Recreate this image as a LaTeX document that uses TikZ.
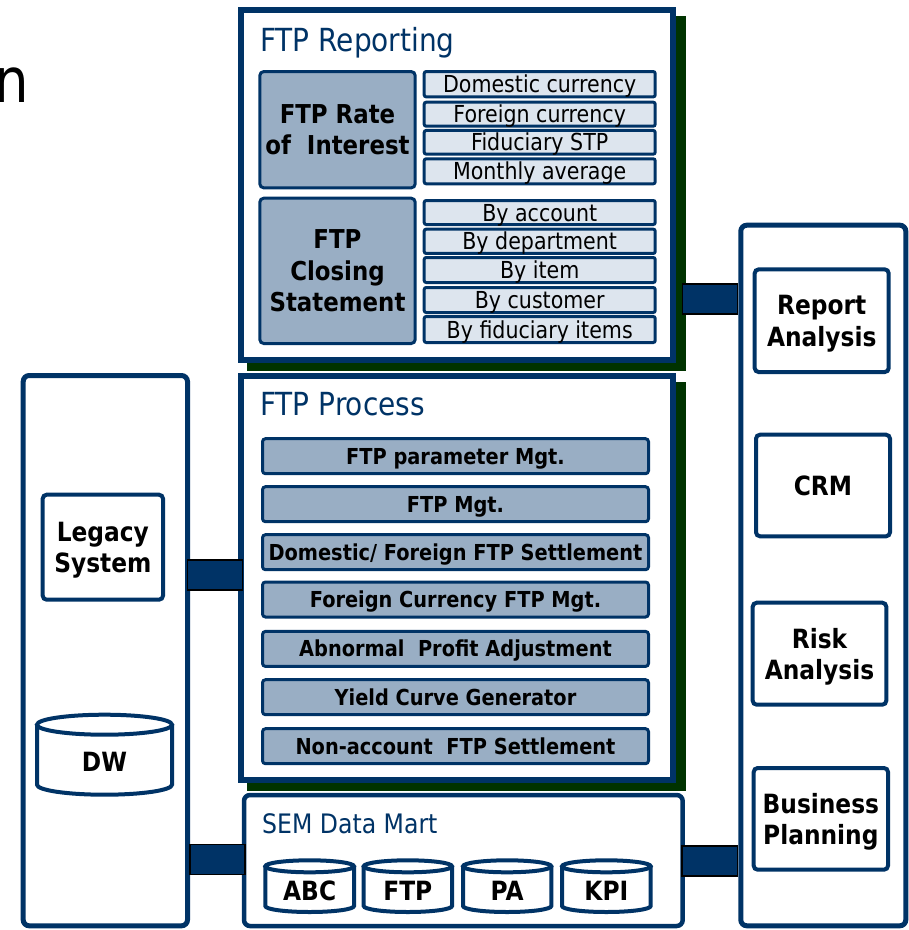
\documentclass[tikz,border=0pt]{standalone}
\usepackage{fontspec}
\setmainfont{DejaVu Sans}[FakeStretch=0.88]
\usetikzlibrary{calc}
\definecolor{navy}{HTML}{003366}
\definecolor{shadowgreen}{HTML}{003300}
\definecolor{grayblue}{HTML}{99AEC4}
\definecolor{lightblue}{HTML}{DDE5EE}
\newcommand\fsz[2]{\fontsize{#1}{#2}\selectfont}
% #1 L, #2 R, #3 ellipse centre y, #4 ry, #5 bottom side y, #6 cx, #7 rx
\newcommand\dbcyl[7]{%
  \filldraw[cylline] (#1,#3) -- (#1,#5) arc[start angle=180, end angle=360, x radius=#7pt, y radius=#4pt] -- (#2,#3);
  \filldraw[cylline] (#6,#3) ellipse [x radius=#7pt, y radius=#4pt];
}
\begin{document}
\begin{tikzpicture}[x=1pt,y=-1pt,
  bigframe/.style={draw=navy, line width=6pt, fill=white, inner sep=0pt, outer sep=0pt},
  sideframe/.style={draw=navy, line width=5pt, fill=white, rounded corners=6pt, inner sep=0pt, outer sep=0pt},
  appbox/.style={draw=navy, line width=4pt, fill=white, rounded corners=4pt, inner sep=0pt, outer sep=0pt, align=center, font=\fsz{26.5}{31.5}\bfseries},
  graybox/.style={draw=navy, line width=3pt, fill=grayblue, rounded corners=4pt, inner sep=0pt, outer sep=0pt, align=center, font=\fsz{26}{31.8}\bfseries},
  itembox/.style={draw=navy, line width=3pt, fill=lightblue, rounded corners=2pt, inner sep=0pt, outer sep=0pt, minimum width=231pt, font=\fsz{23.4}{28}, text height=17pt, text depth=0pt},
  procbar/.style={draw=navy, line width=3pt, fill=grayblue, rounded corners=3pt, inner sep=0pt, outer sep=0pt, minimum width=386pt, minimum height=35pt, font=\fsz{22}{26}\bfseries, text height=16pt, text depth=0pt},
  titletext/.style={text=navy, anchor=base west, inner sep=0pt},
  cylline/.style={draw=navy, line width=4pt, fill=white},
  cyltext/.style={font=\fsz{26.5}{30}\bfseries, inner sep=0pt, text height=19.3pt, text depth=0pt},
  connbar/.style={fill=navy, draw=black, line width=1.5pt},
]
\useasboundingbox (0,0) rectangle (909,930);

% cut-off title letter
\node[anchor=base east, inner sep=0pt, font=\fsz{62}{70}] (cutn) at (29,102) {n};

% shadows
\fill[shadowgreen] (247,16) rectangle (686,371);
\fill[shadowgreen] (247,382) rectangle (686,791);

% main frames
\node[bigframe, minimum width=431.8pt, minimum height=350pt] (reporting) at (457.1,185.3) {};
\node[bigframe, minimum width=431.8pt, minimum height=404pt] (process) at (457.1,578) {};
\node[sideframe, line width=4.5pt, minimum width=438.7pt, minimum height=131pt] (sem) at (463.35,860.5) {};
\node[sideframe, minimum width=164.3pt, minimum height=550.3pt] (leftbox) at (105.35,650.65) {};
\node[sideframe, minimum width=165pt, minimum height=700.6pt] (rightbox) at (823.3,575.5) {};

% titles
\node[titletext, font=\fsz{31.8}{36}] (reptitle) at (260,51.7) {FTP Reporting};
\node[titletext, font=\fsz{31.8}{36}] (proctitle) at (260,415) {FTP Process};
\node[titletext, font=\fsz{26.8}{30}] (semtitle) at (262,833.3) {SEM Data Mart};

% FTP Reporting content
\node[graybox, minimum width=155.4pt, minimum height=116.3pt] (rate) at (337.5,129.7) {FTP Rate\\of\ \ Interest};
\node[graybox, minimum width=155.4pt, minimum height=145.3pt] (closing) at (337.5,270.85) {FTP\\Closing\\Statement};

\node[itembox, minimum height=25.3pt] (dom) at (539.7,84.2) {Domestic currency};
\node[itembox, minimum height=24pt] (forc) at (539.7,114.2) {Foreign currency};
\node[itembox, minimum height=23.7pt] (fid) at (539.7,142.3) {Fiduciary STP};
\node[itembox, minimum height=25pt] (mon) at (539.7,171.3) {Monthly average};
\node[itembox, minimum height=24pt] (byacc) at (539.7,212.5) {By account};
\node[itembox, minimum height=24.3pt] (bydep) at (539.7,241.3) {By department};
\node[itembox, minimum height=25pt] (byitem) at (539.7,270) {By item};
\node[itembox, minimum height=25pt] (bycust) at (539.7,300) {By customer};
\node[itembox, minimum height=26pt] (byfid) at (539.7,329.5) {By fiduciary items};

% FTP Process content
\node[procbar] (p1) at (455.5,456.2) {FTP parameter Mgt.};
\node[procbar] (p2) at (455.5,504.2) {FTP Mgt.};
\node[procbar] (p3) at (455.5,552.2) {Domestic/ Foreign FTP Settlement};
\node[procbar] (p4) at (455.5,599.5) {Foreign Currency FTP Mgt.};
\node[procbar] (p5) at (455.5,648.9) {Abnormal\ \ Profit Adjustment};
\node[procbar] (p6) at (455.5,697.2) {Yield Curve Generator};
\node[procbar] (p7) at (455.5,746.2) {Non-account\ \ FTP Settlement};

% left column
\node[appbox, minimum width=120.3pt, minimum height=105pt] (legacy) at (102.85,547.2) {Legacy\\\smash{System}};
\dbcyl{37}{172}{724.7}{10}{784.7}{104.5}{67.5}
\node[cyltext] (dw) at (104.5,761.4) {DW};

% SEM data mart cylinders
\dbcyl{265.3}{354}{866.3}{6}{906}{309.65}{44.35}
\node[cyltext] (abc) at (309.65,890.8) {ABC};
\dbcyl{363.7}{452}{866.3}{6}{906}{407.85}{44.15}
\node[cyltext] (ftpdb) at (407.85,890.8) {FTP};
\dbcyl{463}{551.3}{866.3}{6}{906}{507.15}{44.15}
\node[cyltext] (pa) at (507.15,890.8) {PA};
\dbcyl{562}{650.7}{866.3}{6}{906}{606.35}{44.35}
\node[cyltext] (kpi) at (606.35,890.8) {KPI};

% right column
\node[appbox, minimum width=134pt, minimum height=102.7pt] (report) at (821.7,320.7) {Report\\\smash{Analysis}};
\node[appbox, minimum width=134pt, minimum height=101.6pt] (crm) at (823,485.5) {CRM};
\node[appbox, minimum width=133.6pt, minimum height=102pt] (risk) at (819.5,653.7) {Risk\\\smash{Analysis}};
\node[appbox, minimum width=134.3pt, minimum height=101.7pt] (business) at (820.85,818.85) {Business\\\smash{Planning}};

% connectors
\coordinate (k1) at (0,575);
\coordinate (k2) at (0,859.3);
\coordinate (k3) at (0,299.2);
\coordinate (k4) at (0,861);
\filldraw[connbar] ($(leftbox.east |- k1)+(0.2,-15)$) rectangle ($(process.west |- k1)+(1.1,15)$);
\filldraw[connbar] ($(leftbox.east |- k2)+(2.5,-15)$) rectangle ($(sem.west |- k2)+(1,15)$);
\filldraw[connbar] ($(reporting.east |- k3)+(9.3,-15)$) rectangle ($(rightbox.west |- k3)+(-3.1,15)$);
\filldraw[connbar] ($(sem.east |- k4)+(-0.7,-15)$) rectangle ($(rightbox.west |- k4)+(-3.1,15)$);
\end{tikzpicture}
\end{document}
